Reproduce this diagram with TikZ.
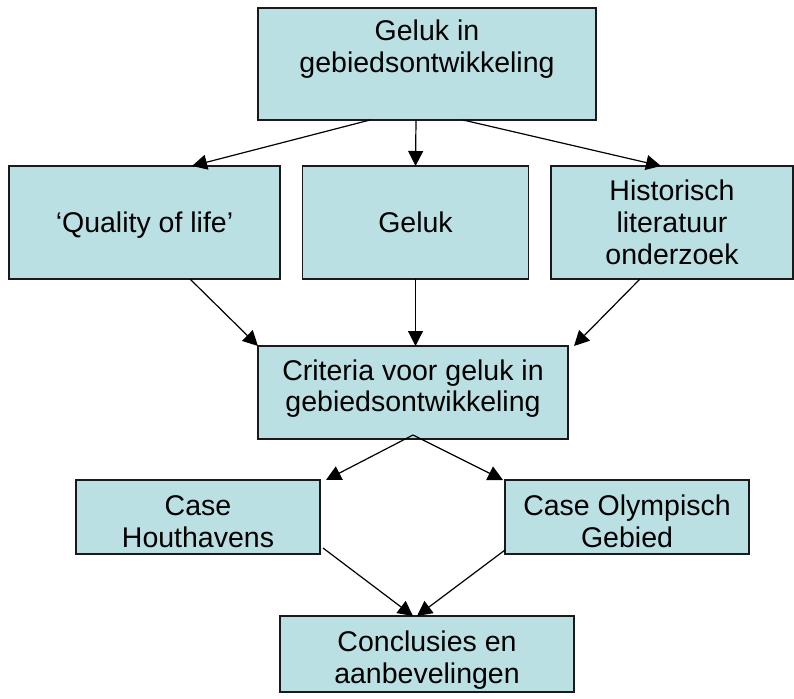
\documentclass[tikz,border=0pt]{standalone}
\usepackage{fontspec}
\setmainfont{Liberation Sans}
\usepackage{xcolor}
\usepackage{tikz}
\usetikzlibrary{arrows.meta,positioning}
\definecolor{GelukFill}{HTML}{BBE0E3}
\definecolor{GelukLine}{HTML}{1A1A1A}
% fixed room above the first and below the last line of a box text
\newcommand{\hoog}[1]{\rule{0pt}{#1}}
\newcommand{\diep}[1]{\rule[-#1]{0pt}{#1}}

\begin{document}
\begin{tikzpicture}[
  x=1pt, y=-1pt,
  node distance=22.5pt,
  every node/.style={font=\fontsize{28.5}{32}\selectfont},
  blok/.style={draw=GelukLine, fill=GelukFill, line width=1.3pt, inner sep=0pt, outer sep=0pt, align=center},
  arrow/.style={-{Triangle[length=15pt,width=15pt]}, line width=1.2pt, color=black}
]
\useasboundingbox (0,0) rectangle (794,698);

\node[blok, minimum width=338pt, minimum height=112pt] (top) at (427,64) {\hoog{22pt}Geluk in\\gebiedsontwikkeling\diep{36pt}};

\node[blok, minimum width=271pt, minimum height=113pt] (qol) at (144.5,222.5) {\hoog{25pt}`Quality of life'\diep{6pt}};
\node[blok, minimum width=226pt, minimum height=113pt, right=of qol] (geluk) {\hoog{25pt}Geluk\diep{6pt}};
\node[blok, minimum width=242pt, minimum height=113pt, right=of geluk] (hist) {\hoog{32pt}Historisch\\literatuur\\onderzoek\diep{13pt}};

\node[blok, minimum width=310pt, minimum height=93pt] (crit) at (413,392.5) {\hoog{22pt}Criteria voor geluk in\\[-1pt]gebiedsontwikkeling\diep{15pt}};

\node[blok, minimum width=244pt, minimum height=74pt] (hout) at (198,517) {\hoog{35pt}Case\\Houthavens\diep{7pt}};
\node[blok, minimum width=244pt, minimum height=74pt] (olym) at (627,517) {\hoog{35pt}Case Olympisch\\Gebied\diep{7pt}};

\node[blok, minimum width=294pt, minimum height=76pt] (concl) at (427,654) {\hoog{34pt}Conclusies en\\aanbevelingen\diep{8pt}};

\draw[arrow] ([xshift=-57pt]top.south) -- ([xshift=47.5pt]qol.north);
\draw[arrow] ([xshift=-11pt]top.south) -- (geluk.north);
\draw[arrow] ([xshift=36pt]top.south) -- ([xshift=-11pt]hist.north);

\draw[arrow] ([xshift=45.5pt]qol.south) -- (crit.north west);
\draw[arrow] (geluk.south) -- (geluk.south |- crit.north);
\draw[arrow] ([xshift=-32pt]hist.south) -- ([xshift=6pt]crit.north east);

\draw[arrow] ([yshift=4pt]crit.south) -- ([xshift=6pt]hout.north east);
\draw[arrow] ([yshift=4pt]crit.south) -- ([xshift=-2pt]olym.north west);

\draw[arrow] ([xshift=3pt,yshift=6pt]hout.south east) -- ([xshift=-14pt]concl.north);
\draw[arrow] ([yshift=4pt]olym.south west) -- ([xshift=-10pt]concl.north);
\end{tikzpicture}
\end{document}
